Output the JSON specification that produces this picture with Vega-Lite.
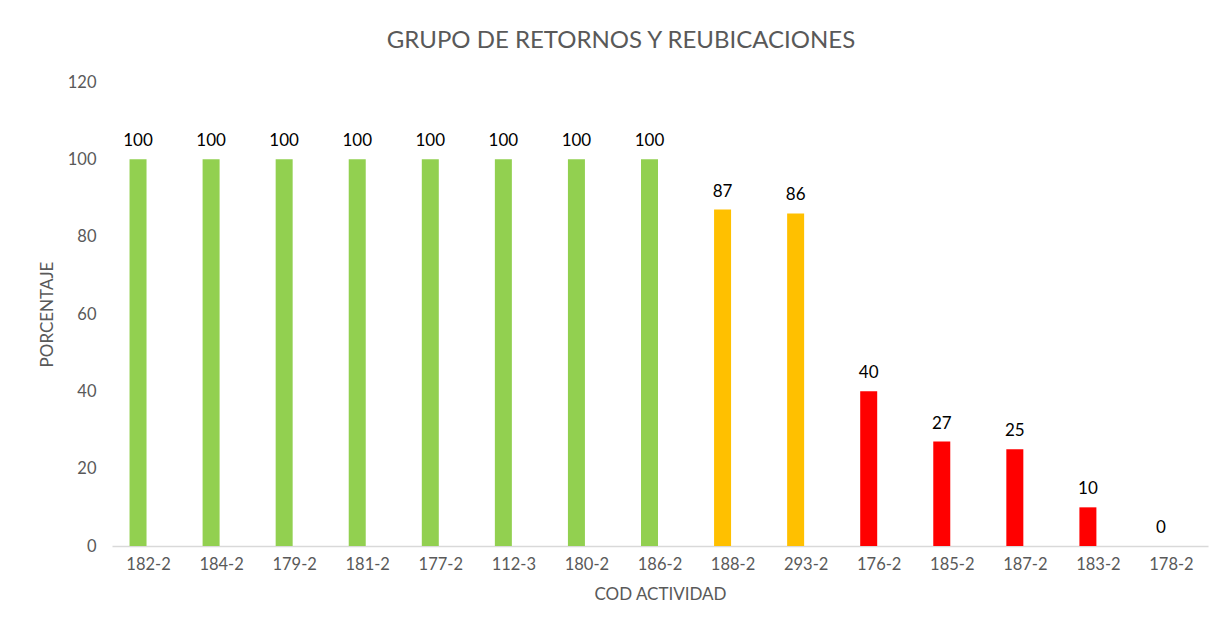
{
  "$schema": "https://vega.github.io/schema/vega-lite/v6.json",
  "autosize": "none",
  "width": 1096,
  "height": 464,
  "padding": {"left": 112, "top": 82, "right": 15, "bottom": 87},
  "background": "white",
  "title": {
    "text": "GRUPO DE RETORNOS Y REUBICACIONES",
    "font": "Lato",
    "fontSize": 24,
    "fontWeight": "normal",
    "color": "#595959",
    "anchor": "middle",
    "dx": -39,
    "offset": 21
  },
  "data": {
    "values": [
      {"cod": "182-2", "pct": 100, "nivel": "alto"},
      {"cod": "184-2", "pct": 100, "nivel": "alto"},
      {"cod": "179-2", "pct": 100, "nivel": "alto"},
      {"cod": "181-2", "pct": 100, "nivel": "alto"},
      {"cod": "177-2", "pct": 100, "nivel": "alto"},
      {"cod": "112-3", "pct": 100, "nivel": "alto"},
      {"cod": "180-2", "pct": 100, "nivel": "alto"},
      {"cod": "186-2", "pct": 100, "nivel": "alto"},
      {"cod": "188-2", "pct": 87, "nivel": "medio"},
      {"cod": "293-2", "pct": 86, "nivel": "medio"},
      {"cod": "176-2", "pct": 40, "nivel": "bajo"},
      {"cod": "185-2", "pct": 27, "nivel": "bajo"},
      {"cod": "187-2", "pct": 25, "nivel": "bajo"},
      {"cod": "183-2", "pct": 10, "nivel": "bajo"},
      {"cod": "178-2", "pct": 0, "nivel": "bajo"}
    ]
  },
  "encoding": {
    "x": {
      "field": "cod",
      "type": "nominal",
      "sort": null,
      "scale": {"paddingInner": 0, "paddingOuter": 0},
      "axis": {
        "title": "COD ACTIVIDAD",
        "labelAngle": 0,
        "labelFont": "Lato",
        "labelFontSize": 16.5,
        "labelColor": "#595959",
        "labelPadding": 10,
        "ticks": false,
        "domainColor": "#d9d9d9",
        "domainWidth": 1.5,
        "titleFont": "Lato",
        "titleFontSize": 17,
        "titleFontWeight": "normal",
        "titleColor": "#595959",
        "titlePadding": 14
      }
    },
    "y": {
      "field": "pct",
      "type": "quantitative",
      "scale": {"domain": [0, 120], "nice": false},
      "axis": {
        "title": "PORCENTAJE",
        "values": [0, 20, 40, 60, 80, 100, 120],
        "grid": false,
        "domain": false,
        "ticks": false,
        "labelFont": "Lato",
        "labelFontSize": 16.5,
        "labelColor": "#595959",
        "labelPadding": 16,
        "titleFont": "Lato",
        "titleFontSize": 17,
        "titleFontWeight": "normal",
        "titleColor": "#595959",
        "titlePadding": 11
      }
    }
  },
  "layer": [
    {
      "mark": {"type": "bar", "width": 17, "xOffset": -10.5},
      "encoding": {
        "color": {
          "field": "nivel",
          "type": "nominal",
          "scale": {"domain": ["alto", "medio", "bajo"], "range": ["#92D050", "#FFC000", "#FF0000"]},
          "legend": null
        }
      }
    },
    {
      "mark": {"type": "text", "xOffset": -10.5, "dy": -18, "font": "Lato", "fontSize": 17, "color": "#000000"},
      "encoding": {"text": {"field": "pct", "type": "quantitative"}}
    }
  ],
  "config": {"view": {"stroke": null}}
}
